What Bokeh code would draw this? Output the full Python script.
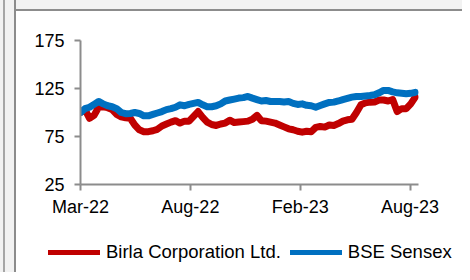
import pandas as pd
from bokeh.plotting import figure
from bokeh.layouts import column
from bokeh.models import (Range1d, FixedTicker, DatetimeTickFormatter, Legend,
                          LegendItem)
from bokeh.embed import file_html
from bokeh.resources import INLINE

# ---- data (weekly, indexed to 100) ----
start_date = "2022-03-11"
end_date = "2023-08-16"
birla = [100, 103, 94, 97, 105.5, 106, 105, 103, 98, 95.5,
         94.5, 94, 87, 82, 80, 80, 81, 82.5, 86, 88,
         90, 91.5, 89, 91, 91, 96, 101, 95, 90, 87.5,
         86.5, 88, 89, 92, 89.5, 90, 90.5, 91, 93, 97,
         91.5, 91, 90, 89, 87, 85, 83, 82, 80.5, 79.5,
         80.5, 80, 84.5, 85.5, 84.8, 87, 86.5, 88.5, 91, 92.4,
         93, 100, 108, 110, 110.8, 111, 113, 113, 112, 113.5,
         101, 104, 104, 109, 116]
sensex = [100, 104, 105.5, 108.5, 111.5, 109, 107, 106, 104, 100,
          98.7, 99, 100, 99, 96.5, 96.5, 98, 99.5, 101, 103,
          104, 105.5, 108, 107, 108.5, 109.5, 110.5, 108, 106, 106,
          107, 109, 112, 113, 114, 115, 115.5, 116.7, 115, 113.5,
          112, 112.5, 111.5, 111.5, 111.5, 111, 111.5, 109.5, 108.4, 109,
          107.5, 107, 105.5, 107.3, 109, 110.5, 110.8, 112, 113.5, 114.8,
          116, 116.7, 116.7, 117.2, 117.7, 118.5, 120.5, 123, 123, 121.5,
          120.5, 120, 119.5, 120, 121]
series_names = ["Birla Corporation Ltd.", "BSE Sensex"]
tick_dates = ["2022-03-11", "2022-08-28", "2023-02-14", "2023-08-03"]
y_ticks = [25, 75, 125, 175]

dates = pd.date_range(start_date, periods=len(birla), freq="7D")

RED = "#C00000"
BLUE = "#0070C0"
AXIS = "#8c8c8c"
FONT = "Liberation Sans"

LEFT_STRIP = ("linear-gradient(to right, #f2f2f2 0px, #f2f2f2 3px, #a6a6a6 3px, "
              "#a6a6a6 5px, #f2f2f2 5px, #f2f2f2 14px, #8c8c8c 14px, #8c8c8c 16px, "
              "transparent 16px)")

# ---------------- main chart ----------------
p = figure(width=462, height=228, x_axis_type="datetime",
           output_backend="svg", toolbar_location=None,
           x_range=Range1d(pd.Timestamp(start_date), pd.Timestamp(end_date)),
           y_range=Range1d(25, 175),
           min_border_left=80, min_border_top=40,
           min_border_right=44, min_border_bottom=44)
p.frame_align = False
p.outline_line_color = None
p.background_fill_color = "white"
p.border_fill_color = None
p.grid.visible = False
p.styles = {"background": LEFT_STRIP + ", linear-gradient(to bottom, #f2f2f2 0px, "
            "#f2f2f2 9px, #8c8c8c 9px, #8c8c8c 11px, #ffffff 11px)"}

p.line(dates, birla, line_color=RED, line_width=7,
       line_join="round", line_cap="round")
p.line(dates, sensex, line_color=BLUE, line_width=7,
       line_join="round", line_cap="round")

for ax in (p.xaxis[0], p.yaxis[0]):
    ax.axis_line_color = AXIS
    ax.axis_line_width = 2
    ax.major_tick_line_color = AXIS
    ax.major_tick_line_width = 2
    ax.major_tick_in = 0
    ax.major_tick_out = 6
    ax.minor_tick_line_color = None
    ax.major_label_text_font = FONT
    ax.major_label_text_font_size = "18px"
    ax.major_label_text_color = "black"

p.yaxis.ticker = FixedTicker(ticks=y_ticks)
p.yaxis.major_label_standoff = 10
p.xaxis.ticker = FixedTicker(ticks=[pd.Timestamp(d).value / 1e6 for d in tick_dates])
p.xaxis.formatter = DatetimeTickFormatter(days="%b-%y", months="%b-%y", years="%b-%y")
p.xaxis.major_label_standoff = 6

# ---------------- legend strip ----------------
q = figure(width=462, height=44, output_backend="svg", toolbar_location=None,
           x_range=Range1d(0, 1), y_range=Range1d(0, 1),
           min_border=0, min_border_left=0, min_border_right=0,
           min_border_top=0, min_border_bottom=0,
           x_axis_location=None, y_axis_location=None)
q.frame_align = False
q.outline_line_color = None
q.grid.visible = False
q.background_fill_color = None
q.border_fill_color = None
q.styles = {"background": LEFT_STRIP + ", #ffffff"}

# legend proxies drawn outside the visible range
l1 = q.line([0, 1], [-5, -5], line_color=RED, line_width=5, line_cap="round")
l2 = q.line([0, 1], [-5, -5], line_color=BLUE, line_width=5, line_cap="round")

legend = Legend(items=[LegendItem(label=series_names[0], renderers=[l1]),
                       LegendItem(label=series_names[1], renderers=[l2])],
                orientation="horizontal", location=(48, 9),
                glyph_width=52, glyph_height=20, label_standoff=6, spacing=9,
                padding=0, margin=0, border_line_color=None,
                background_fill_alpha=0,
                label_text_font=FONT, label_text_font_size="18.5px",
                label_text_color="black")
q.add_layout(legend, "center")

layout = column(p, q, spacing=0)
open("out.html", "w").write(file_html(layout, INLINE))
